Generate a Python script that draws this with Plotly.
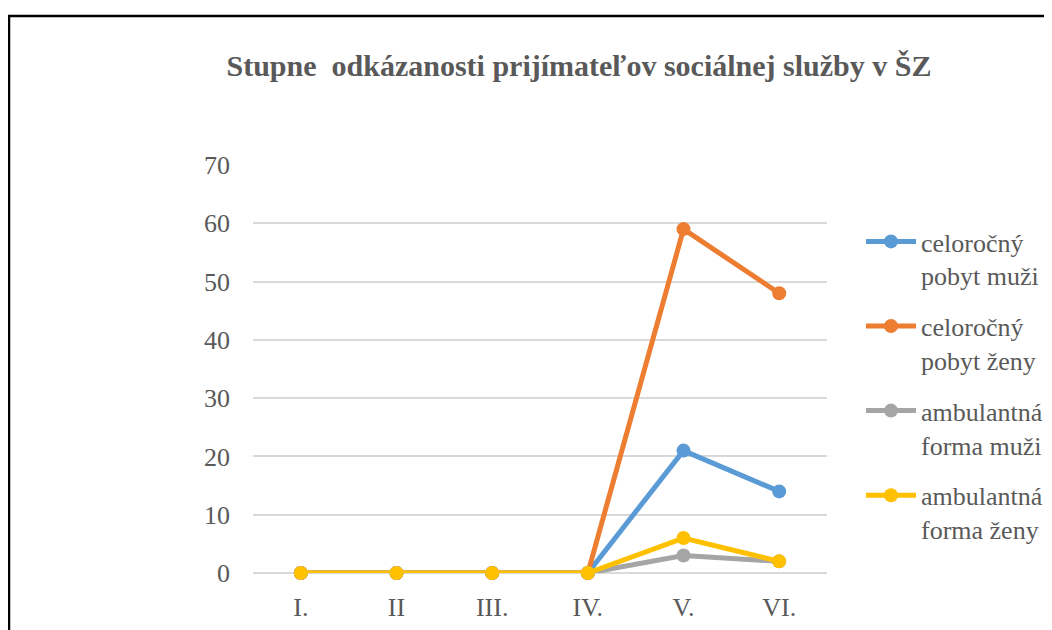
import plotly.graph_objects as go

categories = ["I.", "II", "III.", "IV.", "V.", "VI."]
series_names = ["celoročný<br>pobyt muži", "celoročný<br>pobyt ženy",
                "ambulantná<br>forma muži", "ambulantná<br>forma ženy"]
celorocny_muzi = [0, 0, 0, 0, 21, 14]
celorocny_zeny = [0, 0, 0, 0, 59, 48]
ambulantna_muzi = [0, 0, 0, 0, 3, 2]
ambulantna_zeny = [0, 0, 0, 0, 6, 2]
colors = ["#5B9BD5", "#ED7D31", "#A5A5A5", "#FFC000"]
y_ticks = [0, 10, 20, 30, 40, 50, 60, 70]

# page body has ~8px margin; compensate
OX, OY = 8, 7
W, H = 1052, 630
# target plot area in screen pixels: x 253..827, y 164..572
L = 253 - OX
R = W - (827 - OX)
T = 164 - OY
B = H - (572 - OY)
pw, ph = W - L - R, H - T - B

fig = go.Figure()
for i, (name, vals) in enumerate(zip(series_names,
        [celorocny_muzi, celorocny_zeny, ambulantna_muzi, ambulantna_zeny])):
    fig.add_trace(go.Scatter(
        x=categories, y=vals, name=name, mode="lines+markers",
        line=dict(color=colors[i], width=5),
        marker=dict(color=colors[i], size=14),
        cliponaxis=False, legendgroup=f"g{i}"))

def px_x(p):
    return (p - OX - L) / pw

def px_y(p):
    return (H - B - (p - OY)) / ph

fig.update_layout(
    width=W, height=H,
    margin=dict(l=L, r=R, t=T, b=B),
    paper_bgcolor="white", plot_bgcolor="white",
    title=dict(text="Stupne\u00a0 odkázanosti prijímateľov sociálnej služby v ŠZ",
               x=(579 - OX) / W, xanchor="center",
               y=1 - (64 - OY) / H, yanchor="middle",
               font=dict(family="Liberation Serif", size=30, color="#595959", weight="bold")),
    font=dict(family="Liberation Serif", size=26, color="#595959"),
    xaxis=dict(type="category", range=[-0.5, 5.5], showgrid=False, zeroline=False,
               showline=False, ticks="", ticklabelstandoff=16,
               tickfont=dict(size=26, color="#595959")),
    yaxis=dict(range=[0, 70], tickvals=y_ticks, showgrid=True, gridcolor="#D9D9D9",
               gridwidth=1.5, zeroline=True, zerolinecolor="#D9D9D9", zerolinewidth=1.5,
               showline=False, ticks="", ticklabelstandoff=22,
               tickfont=dict(size=26, color="#595959")),
    legend=dict(x=px_x(861), y=px_y(217), xanchor="left", yanchor="top",
                valign="top", tracegroupgap=14, bgcolor="rgba(0,0,0,0)",
                itemwidth=50,
                font=dict(family="Liberation Serif", size=26, color="#595959")),
    showlegend=True,
)

fig.add_shape(type="rect", xref="paper", yref="paper",
              x0=px_x(9), x1=px_x(1080), y0=px_y(680), y1=px_y(15),
              line=dict(color="black", width=2.5), fillcolor="rgba(0,0,0,0)", layer="below")

fig.write_html("out.html")
